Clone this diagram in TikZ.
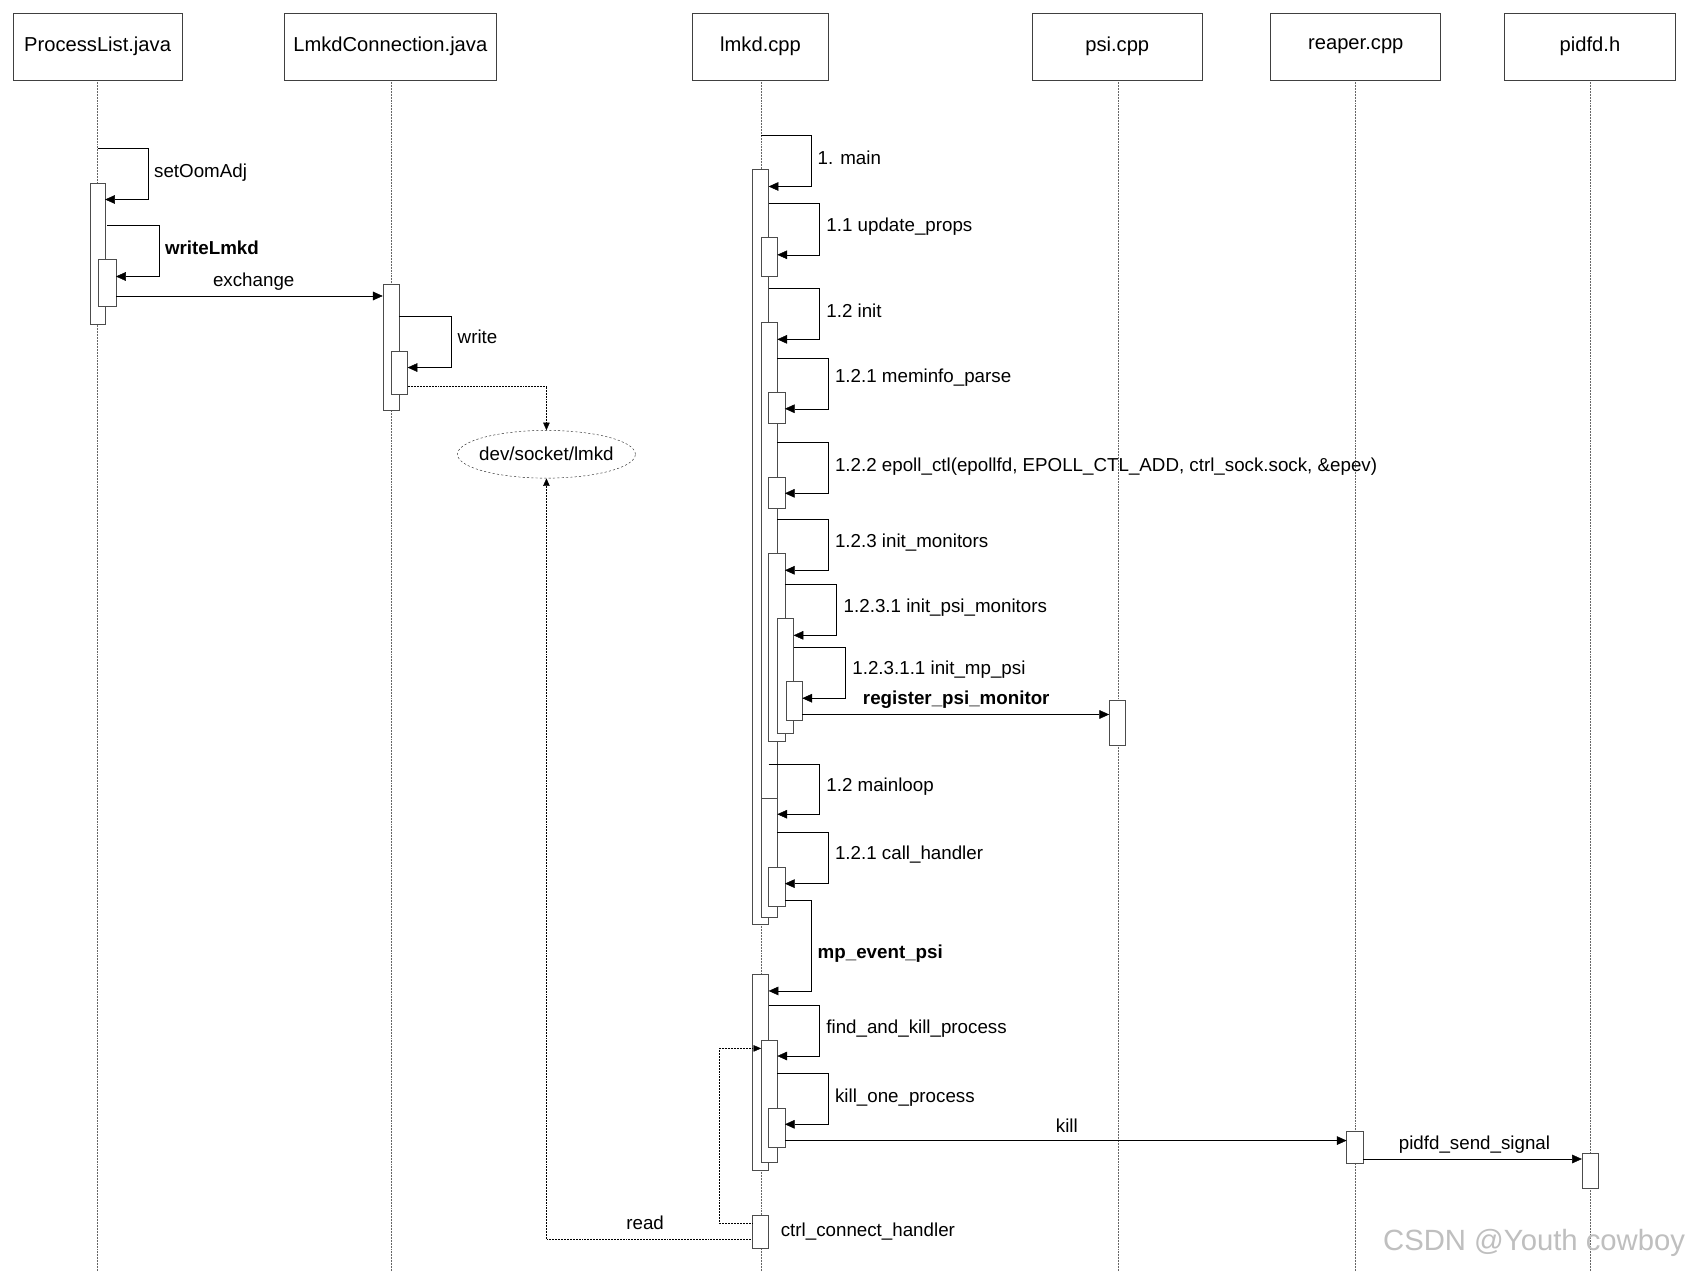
\documentclass[tikz,border=0pt]{standalone}
\usepackage{fontspec}
\setmainfont{Liberation Sans}
\usetikzlibrary{arrows.meta,shapes.geometric}
\begin{document}
\fontsize{17.3}{20}\selectfont
\begin{tikzpicture}[x=1pt,y=-1pt,
  hdr/.style={draw=black!75,thick,fill=white,inner sep=0pt,font=\fontsize{18.6}{21}\selectfont},
  life/.style={draw=black!60,densely dotted},
  act/.style={draw=black!70,fill=white},
  msg/.style={-{Triangle[length=9,width=8]},draw=black},
  dmsg/.style={-{Triangle[length=7,width=6]},draw=black,densely dotted},
  lbl/.style={anchor=west,inner sep=0pt},
  clbl/.style={inner sep=0pt}]
\useasboundingbox (0,0) rectangle (1568,1173);
\fill[white] (0,0) rectangle (1568,1173);
% lifelines
\foreach \x in {90,361,702,1031,1250,1467} \draw[life] (\x,74) -- (\x,1173);
% headers
\node[hdr,minimum width=156,minimum height=62] (h1) at (90,43) {ProcessList.java};
\node[hdr,minimum width=196,minimum height=62] (h2) at (360,43) {LmkdConnection.java};
\node[hdr,minimum width=125,minimum height=62] (h3) at (701.5,43) {lmkd.cpp};
\node[hdr,minimum width=157,minimum height=62] (h4) at (1030.5,43) {psi.cpp};
\node[hdr,minimum width=157,minimum height=62] (h5) at (1250.5,43) {reaper.cpp};
\node[hdr,minimum width=157,minimum height=62] (h6) at (1466.5,43) {pidfd.h};
% self call macro: x0 y0 xr y1 xend
\newcommand\selfcallx[5]{\draw[msg] (#1,#2) -- (#3,#2) -- (#3,#4) -- (#5,#4);}
% ProcessList
\draw[act] (83,169) rectangle (97,299);
\selfcallx{90}{137}{137}{184}{97}
\node[lbl] (l1) at (142,159) {setOomAdj};
\draw[act] (91,239) rectangle (107,282);
\selfcallx{99}{208}{147}{255}{107}
\node[lbl] (l2) at (152,229) {\bfseries writeLmkd};
% LmkdConnection
\draw[act] (353,262) rectangle (368,378);
\draw[msg] (107,273) -- (353,273);
\node[clbl] (l3) at (234,260) {exchange};
\draw[act] (361,324) rectangle (376,364);
\selfcallx{368}{292}{416}{339}{376}
\node[lbl] (l4) at (422,311) {write};
% socket
\node[ellipse,draw=black!85,dash pattern=on 2pt off 2pt,minimum width=156,minimum height=44,inner sep=-4pt] (sock) at (504,419) {dev/socket/lmkd};
\draw[dmsg] (376,356) -- (504,356) -- (sock.north);
\draw[dmsg] (694,1143) -- (504,1143) -- (sock.south);
\node[clbl] (l5) at (595,1128) {read};
% lmkd activations
\draw[act] (694,156) rectangle (709,852);
\selfcallx{702}{125}{748}{172}{709}
\node[lbl] at (754,146) {1. main};
\draw[act] (702,219) rectangle (717,255);
\selfcallx{709}{187}{756}{235}{717}
\node[lbl] at (762,209) {1.1 update\_props};
\draw[act] (702,297) rectangle (717,846);
\selfcallx{709}{266}{756}{313}{717}
\node[lbl] at (762,287) {1.2 init};
\draw[act] (709,362) rectangle (724,390);
\selfcallx{717}{330}{764}{377}{724}
\node[lbl] at (770,348) {1.2.1 meminfo\_parse};
\draw[act] (709,440) rectangle (724,469);
\selfcallx{717}{408}{764}{455}{724}
\node[lbl] at (770,430) {1.2.2 epoll\_ctl(epollfd, EPOLL\_CTL\_ADD, ctrl\_sock.sock, \&epev)};
\draw[act] (709,510) rectangle (724,684);
\selfcallx{717}{479}{764}{526}{724}
\node[lbl] at (770,500) {1.2.3 init\_monitors};
\draw[act] (717,570) rectangle (732,676);
\selfcallx{724}{539}{771}{586}{732}
\node[lbl] at (778,560) {1.2.3.1 init\_psi\_monitors};
\draw[act] (725,628) rectangle (740,664);
\selfcallx{732}{597}{780}{644}{740}
\node[lbl] at (786,618) {1.2.3.1.1 init\_mp\_psi};
\draw[act] (1023,646) rectangle (1038,687);
\draw[msg] (740,659) -- (1023,659);
\node[clbl] at (882,645) {\bfseries register\_psi\_monitor};
\draw[act] (702,736) rectangle (717,846);
\selfcallx{709}{705}{756}{751}{717}
\node[lbl] at (762,726) {1.2 mainloop};
\draw[act] (709,800) rectangle (724,836);
\selfcallx{717}{768}{764}{815}{724}
\node[lbl] at (770,788) {1.2.1 call\_handler};
\draw[act] (694,899) rectangle (709,1079);
\selfcallx{724}{830}{748}{914}{709}
\node[lbl] at (754,880) {\bfseries mp\_event\_psi};
\draw[act] (702,959) rectangle (717,1072);
\selfcallx{709}{927}{756}{974}{717}
\node[lbl] at (762,949) {find\_and\_kill\_process};
\draw[act] (709,1022) rectangle (724,1058);
\selfcallx{717}{990}{764}{1037}{724}
\node[lbl] at (770,1012) {kill\_one\_process};
\draw[act] (1242,1043) rectangle (1257,1073);
\draw[msg] (724,1052) -- (1242,1052);
\node[clbl] at (984,1038) {kill};
\draw[act] (1459,1064) rectangle (1474,1096);
\draw[msg] (1257,1069) -- (1459,1069);
\node[clbl] at (1360,1056) {pidfd\_send\_signal};
\draw[act] (694,1121) rectangle (709,1151);
\draw[dmsg] (694,1128) -- (663,1128) -- (663,967) -- (702,967);
\node[lbl] at (720,1136) {ctrl\_connect\_handler};
\node[clbl,text=black!25,font=\fontsize{27}{30}\selectfont] at (1415,1146) {CSDN @Youth cowboy};
\end{tikzpicture}
\end{document}
